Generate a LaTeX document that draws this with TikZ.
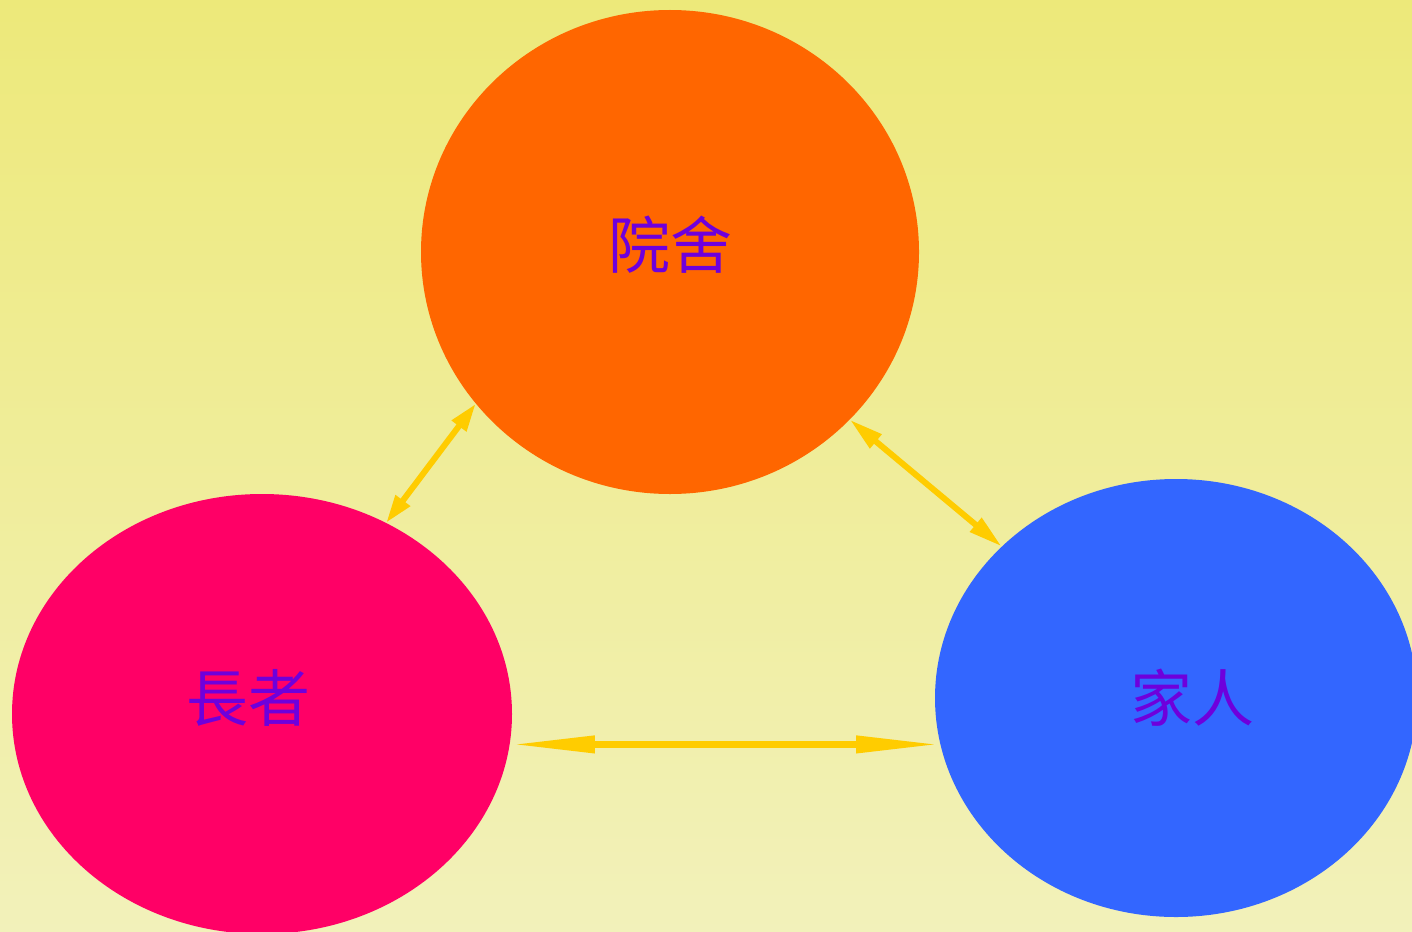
\documentclass[tikz,border=0pt]{standalone}
\usepackage{fontspec}
\newfontfamily\cjk{Noto Sans CJK TC}
\usetikzlibrary{shapes.geometric,arrows.meta}
\definecolor{bgtop}{RGB}{237,233,122}
\definecolor{bgbot}{RGB}{242,241,186}
\definecolor{orangec}{RGB}{255,102,0}
\definecolor{pinkc}{RGB}{255,0,102}
\definecolor{bluec}{RGB}{51,102,255}
\definecolor{arrowc}{RGB}{255,204,0}
\definecolor{textc}{RGB}{110,0,220}
\tikzset{
  blob/.style={ellipse, inner sep=0pt, draw=none},
  lbl/.style={text=textc, font=\cjk\fontsize{62}{62}\selectfont, inner sep=0pt},
  link/.style={draw=arrowc, line width=6pt},
}
\begin{document}
\begin{tikzpicture}[x=1pt,y=-1pt]
\useasboundingbox (0,0) rectangle (1412,931);
\clip (0,0) rectangle (1412,931);
\shade[top color=bgtop, bottom color=bgbot] (0,0) rectangle (1412,931);
\node[blob, fill=orangec, minimum width=498pt, minimum height=484pt] (o) at (670,252) {};
\node[blob, fill=pinkc, minimum width=500pt, minimum height=440pt] (p) at (262,714) {};
\node[blob, fill=bluec, minimum width=482pt, minimum height=438pt] (b) at (1176,698) {};
\node[lbl] (to) at (670,245) {院舍};
\node[lbl] (tp) at (248,698) {長者};
\node[lbl] (tb) at (1192,698) {家人};
\coordinate (h1) at (p.-7.8);
\coordinate (h2) at (b.192.1);
\draw[link, {Triangle[length=28pt,width=17pt]}-{Triangle[length=28pt,width=17pt]}] (p.57.6) -- (o.218.2);
\draw[link, {Triangle[length=34pt,width=17pt]}-{Triangle[length=34pt,width=17pt]}] (o.-43.9) -- (b.139);
\draw[link, line width=7pt, {Triangle[length=85pt,width=16pt]}-{Triangle[length=85pt,width=16pt]}] (h1) -- (h2 |- h1);
\end{tikzpicture}
\end{document}
